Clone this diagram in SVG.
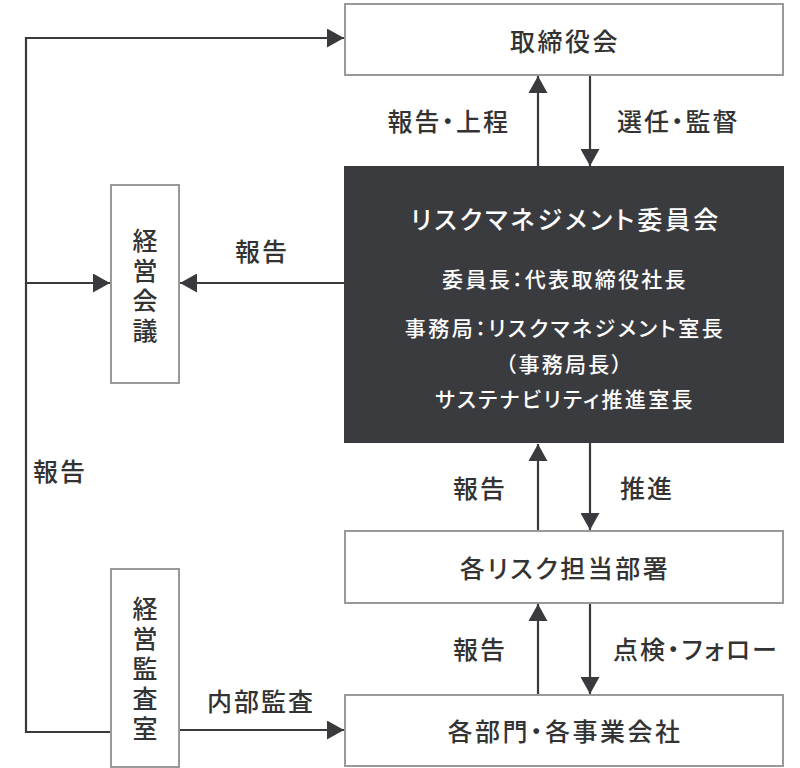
<svg xmlns="http://www.w3.org/2000/svg" width="800" height="768" viewBox="0 0 800 768">
<style>
text{font-family:"Noto Sans CJK JP","Noto Sans",sans-serif;fill:#333;dominant-baseline:central;font-weight:500;font-feature-settings:"palt"}
.box{fill:#fff;stroke:#999;stroke-width:2}
.dark{fill:#3a3b3f}
.t{font-size:25px;letter-spacing:2.5px;text-anchor:middle}
.v{font-size:25px;text-anchor:middle;writing-mode:vertical-rl;letter-spacing:5px;font-feature-settings:normal}
.lbl{font-size:25px;letter-spacing:2px}
.w{fill:#fff;text-anchor:middle}
.ln{fill:none;stroke:#3a3a3e;stroke-width:2.2}
</style>
<defs>
<marker id="ah" viewBox="0 0 17 19" refX="17" refY="9.5" markerWidth="17" markerHeight="19" markerUnits="userSpaceOnUse" orient="auto">
<path d="M0,0 L17,9.5 L0,19 z" fill="#3a3a3e"/>
</marker>
</defs>
<g id="connectors">
<path class="ln" d="M111,732 H26 V38 H344" marker-end="url(#ah)"/>
<path class="ln" d="M26,283 H110" marker-end="url(#ah)"/>
<path class="ln" d="M344,283 H180" marker-end="url(#ah)"/>
<path class="ln" d="M179,730 H344" marker-end="url(#ah)"/>
<path class="ln" d="M538,166 V76" marker-end="url(#ah)"/>
<path class="ln" d="M590,76 V166" marker-end="url(#ah)"/>
<path class="ln" d="M538,531 V444" marker-end="url(#ah)"/>
<path class="ln" d="M590,443 V530" marker-end="url(#ah)"/>
<path class="ln" d="M538,695 V604" marker-end="url(#ah)"/>
<path class="ln" d="M590,604 V694" marker-end="url(#ah)"/>
<text class="lbl" x="510" y="120" text-anchor="end">報告・上程</text>
<text class="lbl" x="617" y="120">選任・監督</text>
<text class="lbl" x="235" y="250">報告</text>
<text class="lbl" x="33" y="470">報告</text>
<text class="lbl" x="207" y="700">内部監査</text>
<text class="lbl" x="507" y="487" text-anchor="end">報告</text>
<text class="lbl" x="620" y="487">推進</text>
<text class="lbl" x="507" y="648" text-anchor="end">報告</text>
<text class="lbl" x="613" y="648">点検・フォロー</text>
</g>
<g id="board">
<rect class="box" x="345" y="4" width="438" height="71"/>
<text class="t" x="565" y="40">取締役会</text>
</g>
<g id="committee">
<rect class="dark" x="344" y="166" width="440" height="277"/>
<text class="w" x="566" y="218" font-size="25" letter-spacing="3">リスクマネジメント委員会</text>
<text class="w" x="565" y="278" font-size="21" letter-spacing="2.3">委員長：代表取締役社長</text>
<text class="w" x="565" y="327" font-size="21" letter-spacing="2.5">事務局：リスクマネジメント室長</text>
<text class="w" x="565" y="363" font-size="21" letter-spacing="2.3">（事務局長）</text>
<text class="w" x="565" y="398" font-size="21" letter-spacing="2.3">サステナビリティ推進室長</text>
</g>
<g id="mgmt-meeting">
<rect class="box" x="111" y="185" width="68" height="198"/>
<text class="v" x="145" y="288">経営会議</text>
</g>
<g id="audit">
<rect class="box" x="111" y="569" width="68" height="198"/>
<text class="v" x="145" y="671">経営監査室</text>
</g>
<g id="risk-depts">
<rect class="box" x="345" y="531" width="438" height="72"/>
<text class="t" x="565" y="567">各リスク担当部署</text>
</g>
<g id="divisions">
<rect class="box" x="345" y="695" width="438" height="71"/>
<text class="t" x="565" y="730">各部門・各事業会社</text>
</g>
</svg>
